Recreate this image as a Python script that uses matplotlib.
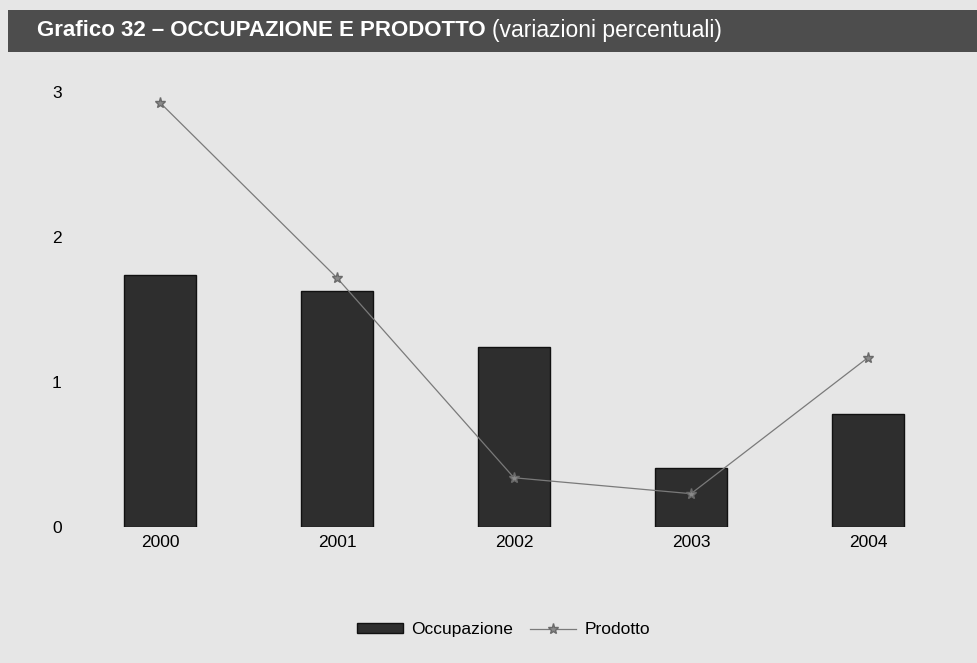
import matplotlib.pyplot as plt
import matplotlib.patches as patches
import numpy as np

plt.rcParams["font.family"] = ["Liberation Sans", "DejaVu Sans"]

# data (variazioni percentuali)
anni = ["2000", "2001", "2002", "2003", "2004"]
occupazione = [1.74, 1.63, 1.24, 0.41, 0.78]
prodotto = [2.93, 1.72, 0.34, 0.23, 1.17]
y_ticks = [0, 1, 2, 3]

bg = "#e6e6e6"
fig = plt.figure(figsize=(9.78, 6.63), dpi=100, facecolor=bg)

# title band
band = patches.Rectangle((0.008, 1 - 52 / 663), 0.992, 42 / 663, transform=fig.transFigure,
                         facecolor="#4d4d4d", edgecolor="none", zorder=0)
fig.patches.append(band)
t1 = fig.text(37 / 978, 1 - 30 / 663, "Grafico 32 \u2013 OCCUPAZIONE E PRODOTTO ", color="white",
              fontsize=16, fontweight="bold", va="center", ha="left")
fig.canvas.draw()
bb = t1.get_window_extent()
fig.text(bb.x1 / 978, 1 - 30 / 663, "(variazioni percentuali)", color="white",
         fontsize=16.5, va="center", ha="left")

# plot area
ax = fig.add_axes([70 / 978, 136 / 663, 908 / 978, 472 / 663])
ax.set_facecolor(bg)
x = np.arange(len(anni))
ax.bar(x, occupazione, width=0.41, color="#2e2e2e", edgecolor="#111111", linewidth=1,
       label="Occupazione", zorder=2)
ax.plot(x, prodotto, color="#7a7a7a", linewidth=0.9, marker="*", markersize=8,
        markerfacecolor="#8a8a8a", markeredgecolor="#6a6a6a", label="Prodotto", zorder=3)

ax.set_xlim((70 - 160) / 177, (978 - 160) / 177)
ax.set_ylim(0, (526 - 60) / 143)
ax.set_xticks(x)
ax.set_xticklabels(anni, fontsize=12.5)
ax.set_yticks(y_ticks)
ax.set_yticklabels([str(v) for v in y_ticks], fontsize=12.5)
ax.tick_params(axis="both", length=0)
ax.tick_params(axis="x", pad=6)
ax.tick_params(axis="y", pad=6)
for s in ax.spines.values():
    s.set_visible(False)

h, l = ax.get_legend_handles_labels()
order = [l.index("Occupazione"), l.index("Prodotto")]
leg = fig.legend([h[i] for i in order], [l[i] for i in order], loc="center",
                 bbox_to_anchor=(0.515, 0.05), ncol=2, frameon=False,
                 fontsize=12.5, handlelength=2.6, handleheight=0.5,
                 columnspacing=1.0, handletextpad=0.5)

fig.savefig("out.png", dpi=100, facecolor=bg)
